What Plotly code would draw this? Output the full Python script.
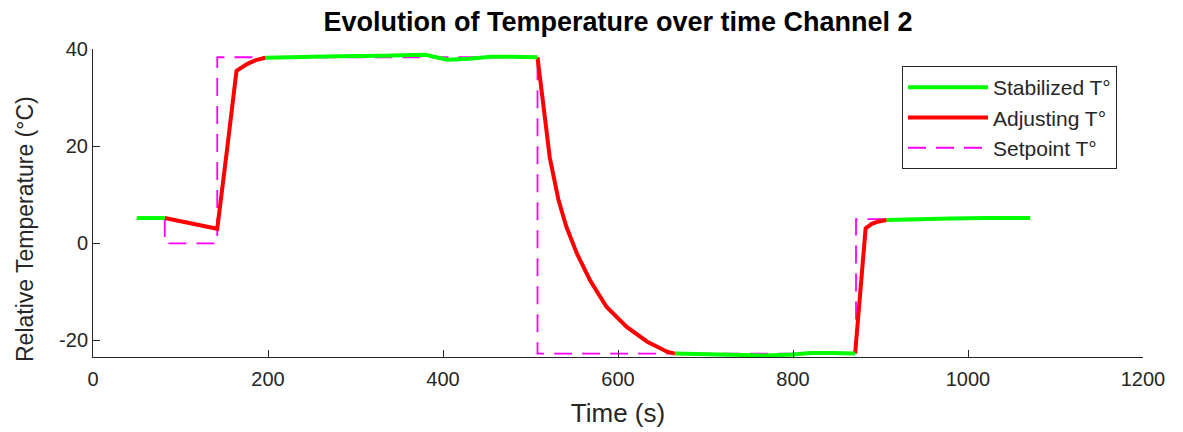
import plotly.graph_objects as go

# ---- data ----
stab_t = [50, 82, None, 197, 230, 280, 330, 380, 392, 405, 430, 455, 480, 508,
          None, 665, 700, 740, 770, 800, 820, 845, 871,
          None, 907, 940, 980, 1020, 1071]
stab_T = [5.2, 5.2, None, 38.2, 38.4, 38.5, 38.6, 38.8, 38.3, 37.8, 38.0, 38.4, 38.4, 38.3,
          None, -22.7, -22.8, -22.9, -23.1, -22.9, -22.6, -22.6, -22.7,
          None, 4.8, 5.0, 5.1, 5.2, 5.2]

adj_t = [82, 100, 114, 130, 142, 153, 164, 176, 186, 197,
         None, 508, 511, 515, 522, 532, 541, 553, 568, 587, 610, 633, 656, 665,
         None, 871, 877, 883, 890, 898, 907]
adj_T = [5.2, 4.5, 3.9, 3.4, 3.0, 19.0, 35.5, 36.9, 37.7, 38.2,
         None, 38.3, 33.5, 28.0, 17.7, 8.9, 3.4, -2.1, -7.6, -13.1, -17.2, -20.2, -22.3, -22.7,
         None, -22.7, -10.0, 3.1, 4.0, 4.5, 4.8]

set_t = [50, 82, 82, 142, 142, 508, 508, 872, 872, 1071]
set_T = [5.0, 5.0, 0.0, 0.0, 38.3, 38.3, -22.7, -22.7, 5.0, 5.0]

x_ticks = [0, 200, 400, 600, 800, 1000, 1200]
y_ticks = [-20, 0, 20, 40]
y_tick_text = ["-20", "0", "20", "40"]

FONT = "Liberation Sans, Arial, sans-serif"
AX = "#262626"

fig = go.Figure()
fig.add_trace(go.Scatter(x=set_t, y=set_T, mode="lines", name="Setpoint T°",
                         line=dict(color="#FF00FF", width=1.8, dash="18px,10px"),
                         legendrank=3))
fig.add_trace(go.Scatter(x=adj_t, y=adj_T, mode="lines", name="Adjusting T°",
                         line=dict(color="#FF0000", width=4), connectgaps=False,
                         legendrank=2))
fig.add_trace(go.Scatter(x=stab_t, y=stab_T, mode="lines", name="Stabilized T°",
                         line=dict(color="#00FF00", width=4), connectgaps=False,
                         legendrank=1))

fig.update_layout(
    width=1183, height=432,
    margin=dict(l=85, r=48, t=41, b=83),
    paper_bgcolor="white", plot_bgcolor="white",
    font=dict(family=FONT, size=19, color=AX),
    title=dict(text="<b>Evolution of Temperature over time Channel 2</b>",
               x=0.5, xref="paper", y=1 - 14 / 432, yref="container", xanchor="center",
               yanchor="middle", font=dict(family=FONT, size=27, color="#000000")),
    showlegend=True,
    legend=dict(x=(902 - 93) / 1050, y=1 - (66 - 49) / 308, xanchor="left", yanchor="top",
                bgcolor="white", bordercolor=AX, borderwidth=1,
                font=dict(family=FONT, size=21, color=AX),
                itemwidth=80, tracegroupgap=0),
    xaxis=dict(range=[0, 1200], tickvals=x_ticks, ticks="inside", ticklen=7,
               tickcolor=AX, showline=True, linecolor=AX, linewidth=1,
               showgrid=False, zeroline=False, mirror=False, automargin=False,
               ticklabelstandoff=4,
               title=dict(text="Time (s)", font=dict(size=26, color=AX), standoff=14),
               tickfont=dict(size=20, color=AX)),
    yaxis=dict(range=[-23.4, 40], tickvals=y_ticks, ticktext=y_tick_text,
               ticks="inside", ticklen=7,
               tickcolor=AX, showline=True, linecolor=AX, linewidth=1,
               showgrid=False, zeroline=False, mirror=False, automargin=False,
               tickfont=dict(size=20, color=AX)),
    annotations=[dict(text="Relative Temperature (°C)", textangle=-90,
                      xref="paper", yref="paper",
                      x=(25 - 93) / 1050, y=1 - (229 - 49) / 308,
                      xanchor="center", yanchor="middle", showarrow=False,
                      font=dict(family=FONT, size=23, color=AX))],
)

fig.write_html("out.html")
